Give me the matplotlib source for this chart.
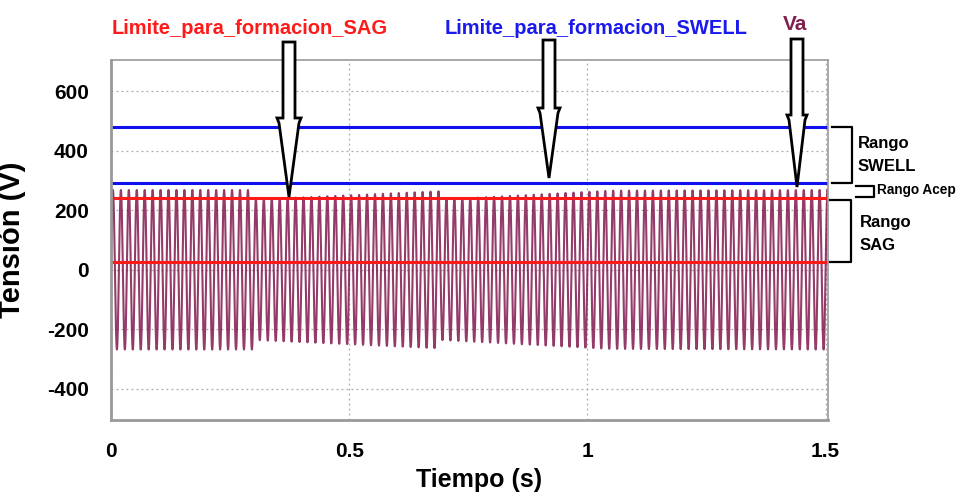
import numpy as np
import matplotlib
matplotlib.use('Agg')
import matplotlib.pyplot as plt
from matplotlib.patches import Polygon

# Datos
frecuencia = 60.0                       # Hz
t_env = [0.0, 0.298, 0.300, 0.690, 0.692, 1.050, 1.505]   # s
amp_env = [268, 268, 236, 264, 236, 266, 268]             # V (pico)
limite_swell = [480, 290]               # V
limite_sag = [240, 27]                  # V
x_ticks = [0, 0.5, 1, 1.5]
x_ticklabels = ['0', '0.5', '1', '1.5']
y_ticks = [-400, -200, 0, 200, 400, 600]

plt.rcParams['font.family'] = ['Liberation Sans', 'DejaVu Sans']
plt.rcParams['axes.unicode_minus'] = False

# Forma de onda Va
t = np.arange(0, 1.505, 1 / 1920)
amp = np.interp(t, t_env, amp_env)
va = amp * np.sin(2 * np.pi * frecuencia * t)

fig = plt.figure(figsize=(9.64, 4.96), dpi=100)
ax = fig.add_axes([0.1151, 0.1532, 0.7438, 0.7258])

ax.plot(t, va, color='#7a0a45', lw=1.5, alpha=0.8)
for v in limite_swell:
    ax.axhline(v, color='#1010ee', lw=2.2)
for v in limite_sag:
    ax.axhline(v, color='#ff1a1a', lw=2.2)

ax.set_xlim(0, 1.505)
ax.set_ylim(-505, 705)
ax.set_xticks(x_ticks)
ax.set_xticklabels(x_ticklabels)
ax.set_yticks(y_ticks)
ax.tick_params(length=0, labelsize=15, pad=16)
ax.tick_params(axis='y', pad=16)
for lab in ax.get_xticklabels() + ax.get_yticklabels():
    lab.set_fontweight('bold')
ax.grid(True, color='#aaaaaa', ls=(0, (1.5, 2.5)), lw=0.9)
for s in ax.spines.values():
    s.set_color('#999999')
    s.set_linewidth(1.2)
ax.spines['bottom'].set_linewidth(2)
ax.spines['left'].set_linewidth(2)

ax.set_ylabel('Tensión (V)', fontsize=21, fontweight='bold')
ax.yaxis.set_label_coords(-0.118, 0.5)
ax.set_xlabel('Tiempo (s)', fontsize=18, fontweight='bold')
ax.xaxis.set_label_coords(0.513, -0.133)

# Titulos de las curvas
fig.text(112 / 964, 1 - 28 / 496, 'Limite_para_formacion_SAG', color='#ff1a1a',
         fontsize=14.5, fontweight='bold', va='center')
fig.text(445 / 964, 1 - 28 / 496, 'Limite_para_formacion_SWELL', color='#1a1aee',
         fontsize=14.5, fontweight='bold', va='center')
fig.text(783 / 964, 1 - 24 / 496, 'Va', color='#80204f',
         fontsize=15, fontweight='bold', va='center')

# Flechas huecas (coordenadas en pixeles de la figura)
def flecha(xc, y_top, y_base, y_base2, y_tip, w_shaft=12, w_head=24):
    H = 496.0
    pts = [(xc - w_shaft / 2, y_top), (xc + w_shaft / 2, y_top),
           (xc + w_shaft / 2, y_base), (xc + w_head / 2, y_base),
           (xc + w_head / 2 - 2, y_base2), (xc, y_tip),
           (xc - w_head / 2 + 2, y_base2), (xc - w_head / 2, y_base),
           (xc - w_shaft / 2, y_base)]
    pts = [(x / 964.0, 1 - y / H) for x, y in pts]
    fig.patches.append(Polygon(pts, closed=True, fc='white', ec='black', lw=2,
                               transform=fig.transFigure, zorder=5))

flecha(289, 42, 118, 123, 197)
flecha(549, 40, 108, 113, 178, w_head=22)
flecha(797, 39, 115, 120, 187, w_head=20)

# Corchetes de rangos
def corchete(x0, x1, y0, y1):
    xs = [x0, x1, x1, x0]
    ys = [y0, y0, y1, y1]
    fig.lines.append(plt.Line2D([x / 964 for x in xs], [1 - y / 496 for y in ys],
                                transform=fig.transFigure, color='black', lw=1.6))

corchete(832, 852, 127, 183)
corchete(856, 874, 186, 197)
corchete(830, 851, 200, 262)

fig.text(858 / 964, 1 - 155 / 496, 'Rango\nSWELL', fontsize=12, fontweight='bold',
         va='center', ha='left', linespacing=1.6)
fig.text(877 / 964, 1 - 190 / 496, 'Rango Acep', fontsize=9.8, fontweight='bold',
         va='center', ha='left')
fig.text(860 / 964, 1 - 234 / 496, 'Rango\nSAG', fontsize=12, fontweight='bold',
         va='center', ha='left', linespacing=1.6)

fig.savefig('out.png', dpi=100)
